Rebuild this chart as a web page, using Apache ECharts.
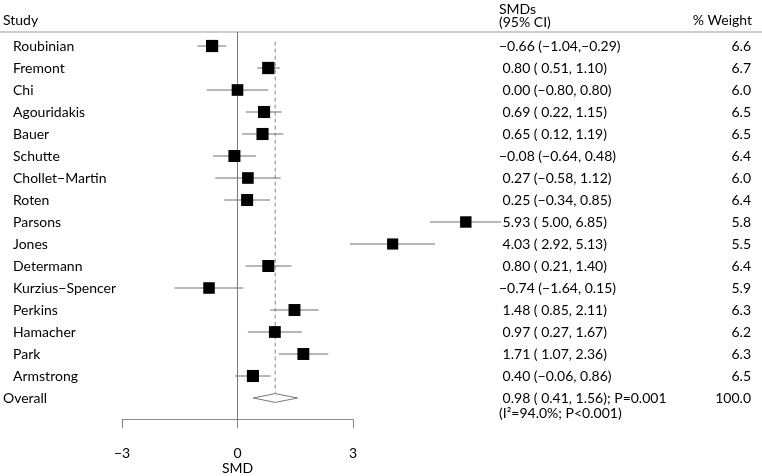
<!DOCTYPE html>
<html>
<head>
<meta charset="utf-8">
<script src="https://cdn.jsdelivr.net/npm/echarts@6/dist/echarts.min.js"></script>
<style>html,body{margin:0;padding:0;background:#fff}#c{width:762px;height:476px}</style>
</head>
<body>
<div id="c"></div>
<script>
const studies = ['Roubinian','Fremont','Chi','Agouridakis','Bauer','Schutte','Chollet\u2212Martin','Roten','Parsons','Jones','Determann','Kurzius\u2212Spencer','Perkins','Hamacher','Park','Armstrong'];
const smd   = [-0.66, 0.80, 0.00, 0.69, 0.65, -0.08, 0.27, 0.25, 5.93, 4.03, 0.80, -0.74, 1.48, 0.97, 1.71, 0.40];
const lower = [-1.04, 0.51, -0.80, 0.22, 0.12, -0.64, -0.58, -0.34, 5.00, 2.92, 0.21, -1.64, 0.85, 0.27, 1.07, -0.06];
const upper = [-0.29, 1.10, 0.80, 1.15, 1.19, 0.48, 1.12, 0.85, 6.85, 5.13, 1.40, 0.15, 2.11, 1.67, 2.36, 0.86];
const weights = [6.6, 6.7, 6.0, 6.5, 6.5, 6.4, 6.0, 6.4, 5.8, 5.5, 6.4, 5.9, 6.3, 6.2, 6.3, 6.5];
const overallLabel = 'Overall';
const overallEst = [0.98, 0.41, 1.56];
const overallWeight = 100.0;
const overallP = 'P=0.001';
const heterogeneity = '(I\u00b2=94.0%; P<0.001)';
const xTickLabels = {'-3':'\u22123','0':'0','3':'3'};

const TXT = '#000';
const FONT = 'Lato';
const FS = 14;

function fmt(v){ return (v < 0 ? '\u2212' : '') + Math.abs(v).toFixed(2); }
function ciString(e,l,u){
  const le = l < 0 ? fmt(l) : ' ' + fmt(l);
  const ue = u < 0 ? fmt(u) : ' ' + fmt(u);
  return (e < 0 ? '' : ' ') + fmt(e) + ' (' + le + ',' + ue + ')';
}

const n = studies.length;
const rowData = studies.map((s,i)=>[i, smd[i], lower[i], upper[i], weights[i]]);
const textData = studies.map((s,i)=>[i, 0]).concat([[n, 0]]);

const yMin = -14/22, yMax = 17;

const chart = echarts.init(document.getElementById('c'), null, {renderer:'canvas'});
chart.setOption({
  animation:false,
  backgroundColor:'#fff',
  textStyle:{fontFamily:FONT},
  grid:[
    {left:122, top:32, width:385, height:388},
    {left:122, top:419, width:231, height:1}
  ],
  xAxis:[
    {gridIndex:0, type:'value', min:-3, max:7, show:false},
    {gridIndex:1, type:'value', min:-3, max:3, interval:3,
      axisLine:{show:true, onZero:false, lineStyle:{color:'#8a8a8a', width:1}},
      axisTick:{show:true, length:9, lineStyle:{color:'#8a8a8a'}},
      splitLine:{show:false},
      axisLabel:{margin:27, fontSize:FS, color:TXT, fontFamily:FONT, formatter:v=>xTickLabels[String(v)]},
      name:'SMD', nameLocation:'middle', nameGap:42,
      nameTextStyle:{fontSize:FS, color:TXT, fontFamily:FONT}}
  ],
  yAxis:[
    {gridIndex:0, type:'value', min:yMin, max:yMax, inverse:true, show:false},
    {gridIndex:1, type:'value', min:0, max:1, show:false}
  ],
  graphic:[
    {type:'line', shape:{x1:0,y1:32,x2:762,y2:32}, style:{stroke:'#9a9a9a', lineWidth:1}, z:1},
    {type:'text', x:3, y:20, style:{text:'Study', fill:TXT, font:FS+'px '+FONT, verticalAlign:'middle'}},
    {type:'text', x:499, y:9, style:{text:'SMDs', fill:TXT, font:FS+'px '+FONT, verticalAlign:'middle'}},
    {type:'text', x:499, y:22, style:{text:'(95% CI)', fill:TXT, font:FS+'px '+FONT, verticalAlign:'middle'}},
    {type:'text', x:752, y:20, style:{text:'% Weight', fill:TXT, font:FS+'px '+FONT, align:'right', verticalAlign:'middle'}}
  ],
  series:[
    {type:'line', xAxisIndex:0, yAxisIndex:0, data:[[0,yMin],[0,yMax]], symbol:'none',
      lineStyle:{color:'#7a7a7a', width:1}, z:2, silent:true},
    {type:'line', xAxisIndex:0, yAxisIndex:0, data:[[overallEst[0],-0.2],[overallEst[0],n]], symbol:'none',
      lineStyle:{color:'#8a8a8a', width:1, type:[4,3]}, z:2, silent:true},
    {type:'custom', xAxisIndex:0, yAxisIndex:0, clip:false, z:3,
      data:rowData,
      encode:{x:[1,2,3], y:0},
      renderItem:function(params, api){
        const i = api.value(0);
        const c = api.coord([api.value(1), i]);
        const l = api.coord([api.value(2), i]);
        const u = api.coord([api.value(3), i]);
        const side = 4.75*Math.sqrt(api.value(4));
        return {type:'group', children:[
          {type:'line', shape:{x1:l[0],y1:l[1],x2:u[0],y2:u[1]}, style:{stroke:'#6e6e6e', lineWidth:1}},
          {type:'rect', shape:{x:c[0]-side/2, y:c[1]-side/2, width:side, height:side}, style:{fill:'#000'}}
        ]};
      }},
    {type:'custom', xAxisIndex:0, yAxisIndex:0, clip:false, z:4,
      data:[[n, overallEst[0], overallEst[1], overallEst[2]]],
      encode:{x:[1,2,3], y:0},
      renderItem:function(params, api){
        const r = api.value(0);
        const l = api.coord([api.value(2), r]);
        const u = api.coord([api.value(3), r]);
        const t = api.coord([api.value(1), r-0.2]);
        const b = api.coord([api.value(1), r+0.2]);
        return {type:'polygon', shape:{points:[l,t,u,b]}, style:{fill:'#fff', stroke:'#7a7a7a', lineWidth:1}};
      }},
    {type:'custom', xAxisIndex:0, yAxisIndex:0, clip:false, z:5, silent:true,
      data:textData,
      encode:{x:1, y:0},
      renderItem:function(params, api){
        const i = api.value(0);
        const y = api.coord([0, i])[1];
        const font = FS+'px '+FONT;
        if (i < n) {
          return {type:'group', children:[
            {type:'text', x:13, y:y, style:{text:studies[i], fill:TXT, font:font, verticalAlign:'middle'}},
            {type:'text', x:499, y:y, style:{text:ciString(smd[i], lower[i], upper[i]), fill:TXT, font:font, verticalAlign:'middle'}},
            {type:'text', x:751, y:y, style:{text:weights[i].toFixed(1), fill:TXT, font:font, align:'right', verticalAlign:'middle'}}
          ]};
        }
        return {type:'group', children:[
          {type:'text', x:3, y:y, style:{text:overallLabel, fill:TXT, font:font, verticalAlign:'middle'}},
          {type:'text', x:499, y:y, style:{text:ciString(overallEst[0], overallEst[1], overallEst[2]) + '; ' + overallP, fill:TXT, font:font, verticalAlign:'middle'}},
          {type:'text', x:499, y:y+15, style:{text:heterogeneity, fill:TXT, font:font, verticalAlign:'middle'}},
          {type:'text', x:751, y:y, style:{text:overallWeight.toFixed(1), fill:TXT, font:font, align:'right', verticalAlign:'middle'}}
        ]};
      }}
  ]
});
</script>
</body>
</html>
